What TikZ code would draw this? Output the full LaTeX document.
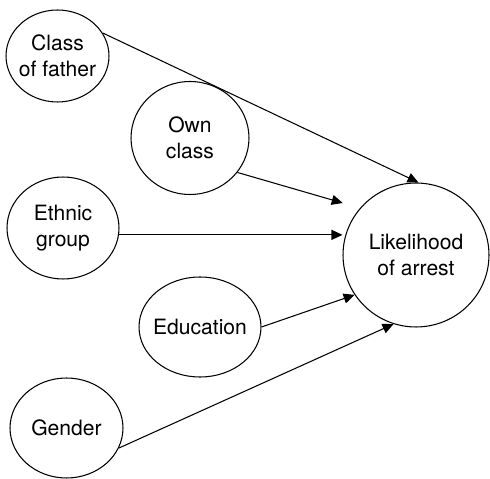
\documentclass[tikz,border=0pt]{standalone}
\usepackage{fontspec}
\setmainfont{TeX Gyre Heros}
\usetikzlibrary{arrows.meta,shapes.geometric}
\tikzset{el/.append style={draw,ellipse,inner sep=-4pt,align=center,line width=0.6pt,font=\fontsize{12}{14.5}\selectfont}}
\tikzset{ar/.append style={line width=0.6pt,-{Triangle[length=2.2mm,width=2mm]}}}

\begin{document}
\begin{tikzpicture}[x=0.02cm,y=-0.02cm]
                \useasboundingbox (0,0) rectangle (490,479);
                % causes
                \node[el,minimum width=2.06cm,minimum height=1.84cm] (father) at (57.5,56) {Class\\of father};
                \node[el,minimum width=2.36cm,minimum height=2.26cm] (own) at (190,138) {Own\\class};
                \node[el,minimum width=2.24cm,minimum height=2.04cm] (ethnic) at (63,228) {Ethnic\\group};
                \node[el,minimum width=2.44cm,minimum height=2.0cm] (edu) at (200,327) {Education};
                \node[el,minimum width=2.26cm,minimum height=2.0cm] (gender) at (66.5,428) {Gender};
                % effect
                \node[el,minimum width=2.92cm,minimum height=2.88cm] (arrest) at (416,255) {Likelihood\\of arrest};
                \draw[ar] (father.27) -- (arrest.88);
                \draw[ar,shorten >=0.36cm] (own.-36) -- (arrest.140);
                \draw[ar] (ethnic.-7) -- (ethnic.-7 -| arrest.west);
                \draw[ar] (edu.east) -- (arrest.213);
                \draw[ar] (gender.-21) -- (arrest.252);
            \end{tikzpicture}
\end{document}
